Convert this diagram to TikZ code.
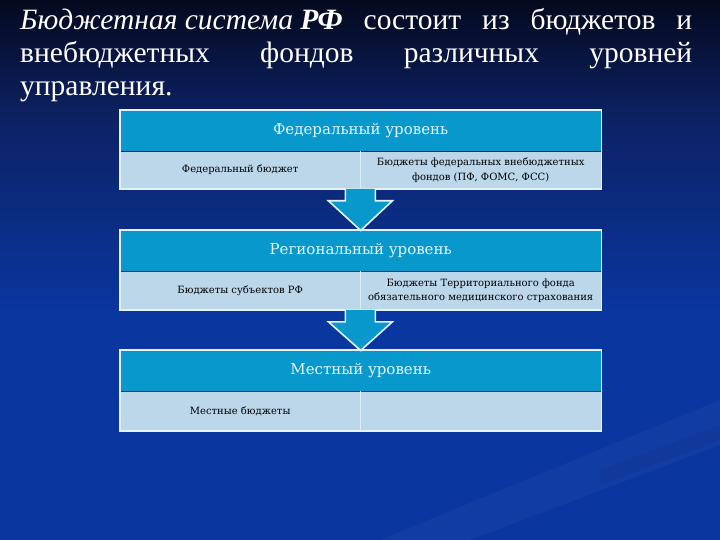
\documentclass[tikz,border=0pt]{standalone}
\usepackage{fontspec}
\setmainfont{Liberation Serif}
\newfontfamily\boxfont{DejaVu Serif}
\usetikzlibrary{calc}
\definecolor{bgtop}{RGB}{4,9,30}
\definecolor{bgmid}{RGB}{12,34,100}
\definecolor{bgbot}{RGB}{10,54,160}
\definecolor{hdrblue}{RGB}{8,152,204}
\definecolor{cellblue}{RGB}{188,214,234}
\definecolor{hdrtext}{RGB}{228,246,255}
\definecolor{edge}{RGB}{228,242,252}
\pgfdeclareverticalshading{bgshade}{100bp}{color(0bp)=(bgbot); color(25bp)=(bgbot); color(46bp)=(bgbot); color(64bp)=(bgmid); color(75bp)=(bgtop); color(100bp)=(bgtop)}
\begin{document}
\begin{tikzpicture}[x=1pt,y=-1pt,
  titletext/.style={anchor=base west, inner sep=0, text=white, font=\fontsize{29.5}{33}\selectfont},
  hdr/.style={fill=hdrblue, minimum width=481pt, minimum height=41pt, inner sep=0, text=hdrtext, font=\boxfont\fontsize{15}{17}\selectfont},
  cell/.style={fill=cellblue, minimum height=37pt, inner sep=0, align=center, text=black, font=\boxfont\fontsize{10}{14.5}\selectfont},
  cellL/.style={cell, minimum width=240pt},
  cellR/.style={cell, minimum width=241pt},
  divider/.style={draw=edge!80!cellblue, line width=0.8pt},
  frame/.style={draw=edge, line width=1.6pt},
  flow/.style={fill=hdrblue, draw=edge, line width=1.6pt, line join=miter}]
\useasboundingbox (0,0) rectangle (720,540);
\begin{scope}[y=1pt]
\shade[shading=bgshade] (0,-540) rectangle (720,0);
\end{scope}
% faint background streaks
\fill[white, opacity=0.03] (380,540) -- (720,400) -- (720,445) -- (470,540) -- cycle;
\fill[black, opacity=0.04] (600,470) -- (720,425) -- (720,440) -- (600,485) -- cycle;

% title
\node[titletext] (t1) at (20,30) {\makebox[672pt][l]{\textit{Бюджетная система} \textbf{\textit{РФ}}\hfill состоит\hfill из\hfill бюджетов\hfill и}};
\node[titletext] (t2) at (20,63) {\makebox[672pt][l]{внебюджетных\hfill фондов\hfill различных\hfill уровней}};
\node[titletext] (t3) at (20,96) {управления.};

% federal
\node[hdr, anchor=north west] (fedH) at (120,110) {Федеральный уровень};
\node[cellL, anchor=north west] (fedL) at (fedH.south west) {Федеральный бюджет};
\node[cellR, anchor=north east] (fedR) at (fedH.south east) {Бюджеты федеральных внебюджетных\\фондов (ПФ, ФОМС, ФСС)};
\draw[divider] (fedL.north east) -- (fedL.south east);
\draw[frame] (fedH.north west) rectangle (fedR.south east);

% regional
\node[hdr, anchor=north west] (regH) at (120,230) {Региональный уровень};
\node[cellL, anchor=north west, minimum height=38pt] (regL) at (regH.south west) {Бюджеты субъектов РФ};
\node[cellR, anchor=north east, minimum height=38pt] (regR) at (regH.south east) {Бюджеты Территориального фонда\\обязательного медицинского страхования};
\draw[divider] (regL.north east) -- (regL.south east);
\draw[frame] (regH.north west) rectangle (regR.south east);

% local
\node[hdr, anchor=north west] (locH) at (120,350) {Местный уровень};
\node[cellL, anchor=north west, minimum height=39pt] (locL) at (locH.south west) {Местные бюджеты};
\node[cellR, anchor=north east, minimum height=39pt] (locR) at (locH.south east) {};
\draw[divider] (locL.north east) -- (locL.south east);
\draw[frame] (locH.north west) rectangle (locR.south east);

% flow arrows between levels
\draw[flow] ($(fedL.south east)+(-15,0)$) -- ($(fedL.south east)+(-15,12)$) -- ($(fedL.south east)+(-32,12)$) -- ($(regH.north)+(0,0.5)$) -- ($(fedL.south east)+(32,12)$) -- ($(fedL.south east)+(15,12)$) -- ($(fedL.south east)+(15,0)$);
\draw[flow] ($(regL.south east)+(-15,0)$) -- ($(regL.south east)+(-15,12)$) -- ($(regL.south east)+(-32,12)$) -- ($(locH.north)+(0,0.5)$) -- ($(regL.south east)+(32,12)$) -- ($(regL.south east)+(15,12)$) -- ($(regL.south east)+(15,0)$);
\end{tikzpicture}
\end{document}
